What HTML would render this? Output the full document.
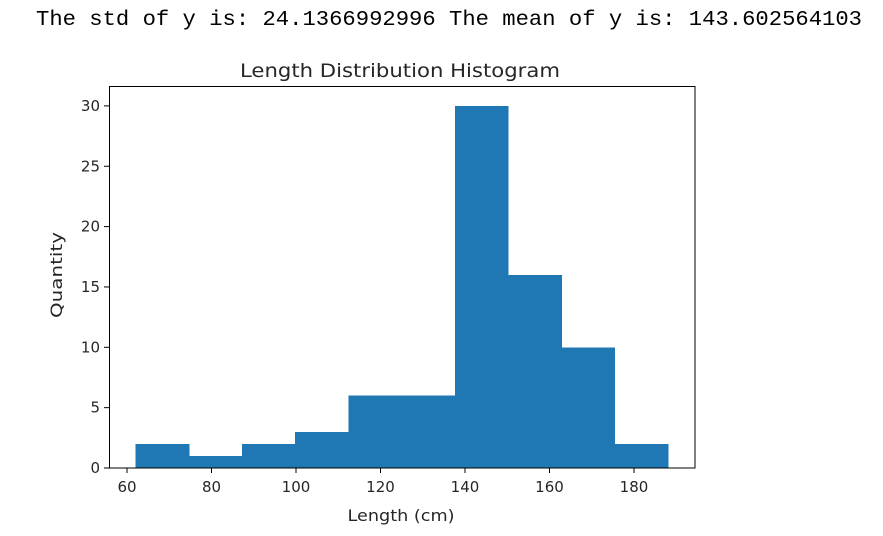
<!DOCTYPE html>
<html><head><meta charset="utf-8"><style>
body{margin:0;background:#fff;width:883px;height:531px;overflow:hidden}
svg text{font-family:"DejaVu Sans","Liberation Sans",sans-serif;fill:#262626}
</style></head><body>
<svg width="883" height="531">
<text x="36" y="25" textLength="826" lengthAdjust="spacingAndGlyphs" style="font-family:'Liberation Mono','DejaVu Sans Mono',monospace;font-size:21px;fill:#000">The std of y is: 24.1366992996 The mean of y is: 143.602564103</text>
<text x="400" y="77" text-anchor="middle" font-size="19" textLength="320" lengthAdjust="spacingAndGlyphs">Length Distribution Histogram</text>
<g id="bars" shape-rendering="crispEdges"></g>
<rect x="109.5" y="86.5" width="585.5" height="381.5" fill="none" stroke="#000" stroke-width="1"/>
<g id="xt"></g><g id="yt"></g>
<text x="401" y="521" text-anchor="middle" font-size="16" textLength="107" lengthAdjust="spacingAndGlyphs">Length (cm)</text>
<text transform="translate(62,275) rotate(-90)" text-anchor="middle" font-size="16" textLength="86" lengthAdjust="spacingAndGlyphs">Quantity</text>
</svg>
<script>
const binStart=62, binEnd=188;
const counts=[2,1,2,3,6,6,30,16,10,2];
const xTicks=[60,80,100,120,140,160,180];
const yTicks=[0,5,10,15,20,25,30];
const X=v=>127+(v-60)*4.225, Y=v=>468-v*12.07;
const ns="http://www.w3.org/2000/svg";
const bw=(binEnd-binStart)/counts.length;
const bars=document.getElementById('bars');
counts.forEach((c,i)=>{const r=document.createElementNS(ns,'rect');
const x0=X(binStart+i*bw),x1=X(binStart+(i+1)*bw);
r.setAttribute('x',x0);r.setAttribute('width',x1-x0+0.6);r.setAttribute('y',Y(c));r.setAttribute('height',Y(0)-Y(c));r.setAttribute('fill','#1f77b4');


bars.appendChild(r);});
const xt=document.getElementById('xt');
xTicks.forEach(t=>{const g=document.createElementNS(ns,'g');


g.innerHTML=`<line x1="${X(t)}" x2="${X(t)}" y1="468" y2="473" stroke="#000"/><text x="${X(t)}" y="492" text-anchor="middle" font-size="15">${t}</text>`;xt.appendChild(g);});
const yt=document.getElementById('yt');
yTicks.forEach(t=>{const g=document.createElementNS(ns,'g');


g.innerHTML=`<line x1="104" x2="109.5" y1="${Y(t)}" y2="${Y(t)}" stroke="#000"/><text x="100" y="${Y(t)+5}" text-anchor="end" font-size="15">${t}</text>`;yt.appendChild(g);});
</script>
</body></html>
